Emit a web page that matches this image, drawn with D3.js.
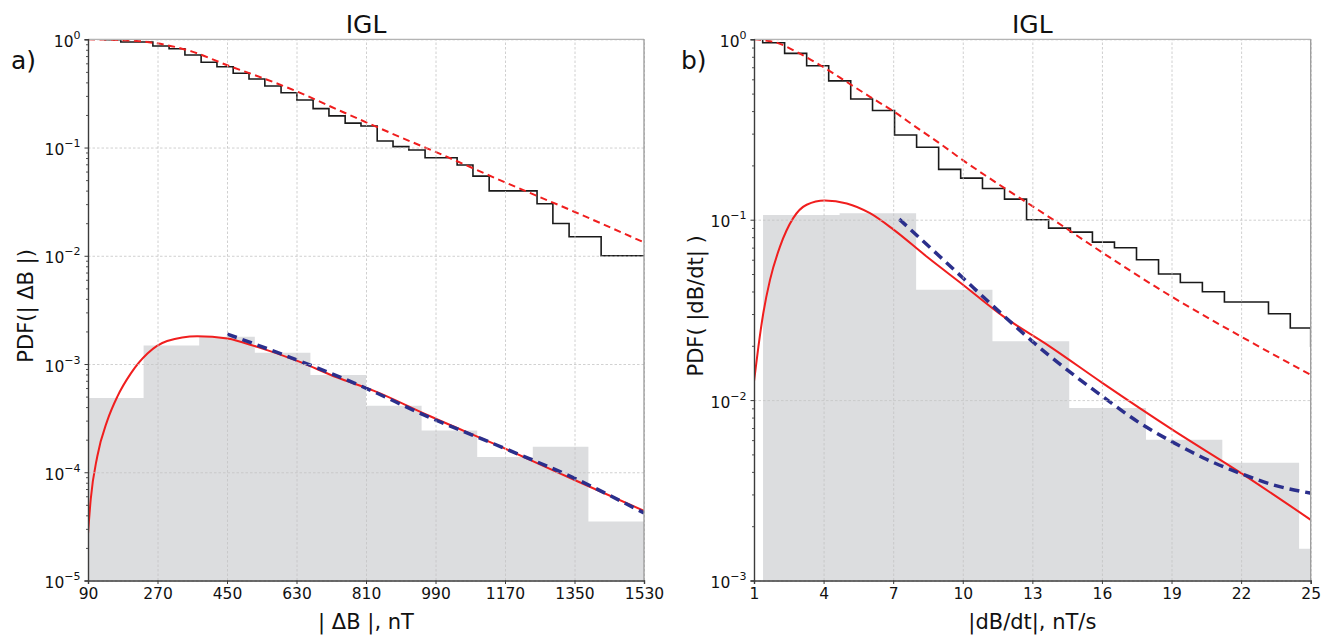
<!DOCTYPE html>
<html><head><meta charset="utf-8">
<script src="https://cdn.jsdelivr.net/npm/d3@7"></script>
<style>body{margin:0;background:#fff;} text{font-family:"DejaVu Sans",sans-serif;fill:#111;}</style>
</head><body>
<svg id="chart" width="1338" height="638"></svg>
<script>
// ---------- Panel a) |ΔB| ----------
const aXTicks = [90, 270, 450, 630, 810, 990, 1170, 1350, 1530];
const aYExps = [0, -1, -2, -3, -4, -5];
const aHistEdges = [90, 234, 378, 522, 666, 810, 954, 1098, 1242, 1386, 1530];
const aHistPdf = [4.85e-4, 1.48e-3, 1.79e-3, 1.27e-3, 7.9e-4, 4.12e-4, 2.43e-4, 1.38e-4, 1.72e-4, 3.5e-5];
const aCcdfEdges = [90, 134, 175, 217, 258, 300, 341, 383, 424, 466, 507, 548, 590, 631, 673, 714, 756, 797, 839, 880, 921, 963, 1004, 1046, 1087, 1129, 1170, 1211, 1253, 1294, 1336, 1377, 1419, 1460, 1502, 1543];
const aCcdf = [1.0, 0.99, 0.944, 0.944, 0.867, 0.819, 0.716, 0.613, 0.558, 0.485, 0.430, 0.370, 0.321, 0.275, 0.229, 0.196, 0.168, 0.158, 0.115, 0.102, 0.095, 0.0805, 0.0805, 0.069, 0.0544, 0.0398, 0.0398, 0.0398, 0.0302, 0.0199, 0.0150, 0.0150, 0.0100, 0.0100, 0.0100];
const aFitPdfX = [90, 97, 114, 140, 166, 201, 244, 295, 373, 451, 528, 632, 736, 831, 967, 1166, 1356, 1530];
const aFitPdf = [2.7e-5, 5.6e-5, 1.40e-4, 3.0e-4, 5.0e-4, 8.2e-4, 1.25e-3, 1.63e-3, 1.81e-3, 1.72e-3, 1.44e-3, 1.07e-3, 7.5e-4, 5.65e-4, 3.4e-4, 1.68e-4, 8.3e-5, 4.4e-5];
const aFitCcdfX = [90, 180, 268, 360, 449, 540, 630, 721, 812, 903, 993, 1170, 1351, 1530];
const aFitCcdf = [1.0, 0.982, 0.918, 0.77, 0.579, 0.442, 0.331, 0.237, 0.170, 0.123, 0.0902, 0.0477, 0.0254, 0.0133];
const aTailX = [451, 598, 800, 967, 1166, 1356, 1530];
const aTail = [1.89e-3, 1.21e-3, 6.2e-4, 3.3e-4, 1.68e-4, 8.6e-5, 4.2e-5];

// ---------- Panel b) |dB/dt| ----------
const bXTicks = [1, 4, 7, 10, 13, 16, 19, 22, 25];
const bYExps = [0, -1, -2, -3];
const bHistEdges = [1.39, 4.69, 7.99, 11.28, 14.59, 17.9, 21.19, 24.5, 27.8];
const bHistPdf = [0.1062, 0.1087, 0.0409, 0.0212, 0.00904, 0.00602, 0.00449, 0.00150];
const bCcdfEdges = [0.43, 1.375, 2.32, 3.27, 4.22, 5.17, 6.11, 7.06, 8.01, 8.96, 9.91, 10.85, 11.80, 12.75, 13.70, 14.64, 15.59, 16.54, 17.49, 18.44, 19.38, 20.33, 21.28, 22.23, 23.18, 24.12, 25.0, 25.9];
const bCcdf = [1.0, 0.957, 0.836, 0.714, 0.588, 0.467, 0.403, 0.295, 0.252, 0.190, 0.170, 0.149, 0.130, 0.0999, 0.0898, 0.0853, 0.0751, 0.0699, 0.0600, 0.0500, 0.0449, 0.0399, 0.0350, 0.0350, 0.0301, 0.0251, 0.0199];
const bFitPdfX = [1.0, 1.19, 1.40, 1.69, 2.12, 2.69, 3.27, 4.05, 5.0, 6.0, 7.03, 8.44, 10.02, 11.75, 13.76, 16.03, 19.05, 22.0, 25.0];
const bFitPdf = [0.0127, 0.0198, 0.0303, 0.0464, 0.0709, 0.102, 0.121, 0.1276, 0.123, 0.1086, 0.0878, 0.0625, 0.0435, 0.0291, 0.0198, 0.01242, 0.00684, 0.00394, 0.00217];
const bFitCcdfX = [1, 2, 3, 4, 5, 6, 7, 8, 9, 10, 11, 12, 13, 14, 16, 19, 22, 25];
const bFitCcdf = [1.0, 0.955, 0.83, 0.70, 0.58, 0.48, 0.40, 0.325, 0.265, 0.214, 0.175, 0.144, 0.119, 0.098, 0.066, 0.0375, 0.0225, 0.0138];
const bTailX = [7.26, 10.02, 11.17, 13.69, 16.03, 17.64, 19.05, 20.5, 22.0, 23.38, 25.0];
const bTail = [0.1007, 0.0474, 0.0345, 0.0178, 0.01047, 0.00745, 0.00585, 0.0047, 0.00391, 0.00339, 0.00305];

const svg = d3.select("#chart");
const zip = (xs, ys) => xs.map((x, i) => [x, ys[i]]);

function drawPanel(p) {
  const x = d3.scaleLinear().domain([p.xTicks[0], p.xTicks[p.xTicks.length - 1]]).range([p.left, p.left + p.width]);
  const y = d3.scaleLog().domain([Math.pow(10, d3.min(p.yExps)), 1]).range([p.top + p.height, p.top]);
  const yTickVals = p.yExps.map(e => Math.pow(10, e));
  const minorVals = [];
  p.yExps.forEach(e => { if (e < 0) for (let k = 2; k <= 9; k++) minorVals.push(k * Math.pow(10, e)); });

  const g = svg.append("g");
  const clipId = "clip-" + p.id;
  svg.append("defs").append("clipPath").attr("id", clipId)
    .append("rect").attr("x", p.left).attr("y", p.top).attr("width", p.width).attr("height", p.height);
  const plot = g.append("g").attr("clip-path", `url(#${clipId})`);

  // histogram as one stepped area (no seams between bars)
  const bottom = y.domain()[0];
  const histPts = zip(p.histEdges.slice(0, p.histPdf.length), p.histPdf);
  histPts.push([p.histEdges[p.histPdf.length], p.histPdf[p.histPdf.length - 1]]);
  plot.append("path").datum(histPts)
    .attr("d", d3.area().x(d => x(d[0])).y0(y(bottom)).y1(d => y(d[1])).curve(d3.curveStepAfter))
    .attr("fill", "#dcdddf");

  // grid
  const gx = g.append("g").attr("transform", `translate(0,${p.top + p.height})`)
    .call(d3.axisBottom(x).tickValues(p.xTicks).tickSize(-p.height).tickFormat(""));
  const gy = g.append("g").attr("transform", `translate(${p.left},0)`)
    .call(d3.axisLeft(y).tickValues(yTickVals).tickSize(-p.width).tickFormat(""));
  [gx, gy].forEach(s => {
    s.select(".domain").remove();
    s.selectAll("line").attr("stroke", "#c4c4c4").attr("stroke-width", 0.8).attr("stroke-dasharray", "2.5,2");
  });

  // step CCDF
  const stepPts = zip(p.ccdfEdges.slice(0, p.ccdf.length), p.ccdf);
  stepPts.push([p.ccdfEdges[p.ccdf.length], p.ccdf[p.ccdf.length - 1]]);
  plot.append("path").datum(stepPts)
    .attr("d", d3.line().x(d => x(d[0])).y(d => y(d[1])).curve(d3.curveStepAfter))
    .attr("fill", "none").attr("stroke", "#1a1a1a").attr("stroke-width", 1.6);

  const smooth = d3.line().x(d => x(d[0])).y(d => y(d[1])).curve(d3.curveMonotoneX);
  // fitted CCDF (red dashed)
  plot.append("path").datum(zip(p.fitCcdfX, p.fitCcdf)).attr("d", smooth)
    .attr("fill", "none").attr("stroke", "#f01e1e").attr("stroke-width", 2).attr("stroke-dasharray", "7,4.5");
  // fitted PDF (red solid)
  plot.append("path").datum(zip(p.fitPdfX, p.fitPdf)).attr("d", smooth)
    .attr("fill", "none").attr("stroke", "#f01e1e").attr("stroke-width", 2);
  // tail fit (blue dashed)
  plot.append("path").datum(zip(p.tailX, p.tail)).attr("d", smooth)
    .attr("fill", "none").attr("stroke", "#2b2f8c").attr("stroke-width", 3.5).attr("stroke-dasharray", "10,6");

  // spines
  g.append("line").attr("x1", p.left).attr("x2", p.left + p.width).attr("y1", p.top).attr("y2", p.top).attr("stroke", "#b4b4b4").attr("stroke-width", 1.3);
  g.append("line").attr("x1", p.left + p.width).attr("x2", p.left + p.width).attr("y1", p.top).attr("y2", p.top + p.height).attr("stroke", "#9a9a9a").attr("stroke-width", 1.3);

  // axes with ticks and labels
  const ax = g.append("g").attr("transform", `translate(0,${p.top + p.height})`)
    .call(d3.axisBottom(x).tickValues(p.xTicks).tickSize(3.5).tickPadding(4).tickFormat(d3.format("d")));
  ax.select(".domain").attr("stroke", "#3c3c3c").attr("stroke-width", 1.4);
  ax.selectAll("line").attr("stroke", "#3c3c3c");
  ax.selectAll("text").style("font-size", "15.5px").style("font-family", "DejaVu Sans").attr("fill", "#111");

  const ayMinor = g.append("g").attr("transform", `translate(${p.left},0)`)
    .call(d3.axisLeft(y).tickValues(minorVals).tickSize(2).tickFormat(""));
  ayMinor.select(".domain").remove();
  ayMinor.selectAll("line").attr("stroke", "#555");

  const ay = g.append("g").attr("transform", `translate(${p.left},0)`)
    .call(d3.axisLeft(y).tickValues(yTickVals).tickSize(3.5).tickPadding(4).tickFormat(() => ""));
  ay.select(".domain").attr("stroke", "#3c3c3c").attr("stroke-width", 1.4);
  ay.selectAll("line").attr("stroke", "#3c3c3c");
  ay.selectAll(".tick text").each(function (d) {
    const t = d3.select(this).attr("dy", null).attr("y", 7).style("font-size", "15.5px").style("font-family", "DejaVu Sans");
    const e = Math.round(Math.log10(d));
    t.append("tspan").text("10");
    t.append("tspan").attr("dy", -8).style("font-size", "11px").text(e === 0 ? "0" : "\u2212" + Math.abs(e));
  });

  // titles & labels
  const cx = p.left + p.width / 2;
  g.append("text").attr("x", cx).attr("y", 33).attr("text-anchor", "middle").style("font-size", "25px").text(p.title);
  g.append("text").attr("x", p.letterX).attr("y", 69).style("font-size", "25px").text(p.letter);
  g.append("text").attr("x", cx).attr("y", 629).attr("text-anchor", "middle").style("font-size", "21px").text(p.xLabel);
  g.append("text").attr("transform", `translate(${p.yLabelX},${p.top + p.height / 2 - 4}) rotate(-90)`)
    .attr("text-anchor", "middle").style("font-size", "21px").text(p.yLabel);
}

drawPanel({
  id: "a", left: 88, top: 39.3, width: 556, height: 541.2,
  xTicks: aXTicks, yExps: aYExps, histEdges: aHistEdges, histPdf: aHistPdf,
  ccdfEdges: aCcdfEdges, ccdf: aCcdf, fitPdfX: aFitPdfX, fitPdf: aFitPdf,
  fitCcdfX: aFitCcdfX, fitCcdf: aFitCcdf, tailX: aTailX, tail: aTail,
  title: "IGL", letter: "a)", letterX: 11, xLabel: "| \u0394B |, nT", yLabel: "PDF(| \u0394B |)", yLabelX: 33
});
drawPanel({
  id: "b", left: 754, top: 39.3, width: 556.7, height: 541.2,
  xTicks: bXTicks, yExps: bYExps, histEdges: bHistEdges, histPdf: bHistPdf,
  ccdfEdges: bCcdfEdges, ccdf: bCcdf, fitPdfX: bFitPdfX, fitPdf: bFitPdf,
  fitCcdfX: bFitCcdfX, fitCcdf: bFitCcdf, tailX: bTailX, tail: bTail,
  title: "IGL", letter: "b)", letterX: 681, xLabel: "|dB/dt|, nT/s", yLabel: "PDF( |dB/dt| )", yLabelX: 703
});
</script>
</body></html>
